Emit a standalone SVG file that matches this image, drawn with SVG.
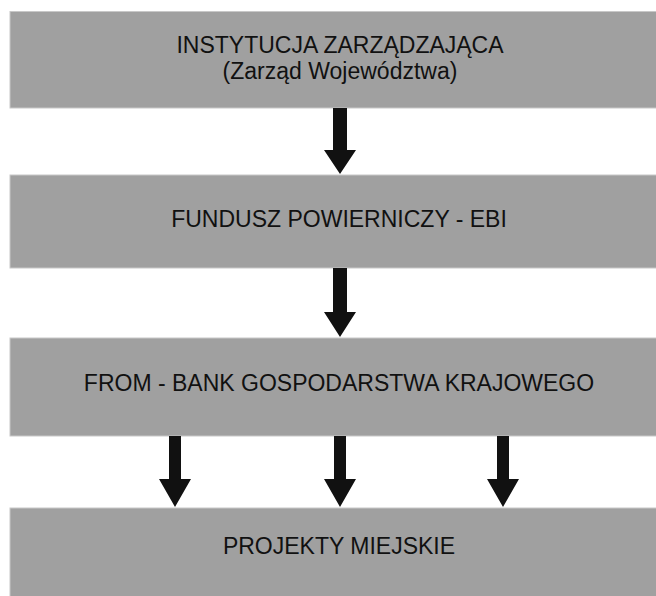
<svg xmlns="http://www.w3.org/2000/svg" width="656" height="596" viewBox="0 0 656 596">
<style>
.box{fill:#a0a0a0;stroke:#c8c8c8;stroke-width:1}
.t{font-family:"Liberation Sans",Arial,sans-serif;font-size:23px;fill:#111;text-anchor:middle}
.arr{fill:#111}
</style>
<rect width="656" height="596" fill="#fff"/>
<g id="n1"><rect class="box" x="10" y="11.5" width="660" height="96.5"/>
<text class="t" x="340" y="53">INSTYTUCJA ZARZĄDZAJĄCA</text>
<text class="t" x="340" y="79">(Zarząd Województwa)</text></g>
<g id="n2"><rect class="box" x="10" y="175" width="660" height="93"/>
<text class="t" x="339" y="227">FUNDUSZ POWIERNICZY - EBI</text></g>
<g id="n3"><rect class="box" x="10" y="338" width="660" height="98"/>
<text class="t" x="339" y="391">FROM - BANK GOSPODARSTWA KRAJOWEGO</text></g>
<g id="n4"><rect class="box" x="10" y="508" width="660" height="100"/>
<text class="t" x="339" y="554">PROJEKTY MIEJSKIE</text></g>
<g id="connectors">
<path class="arr" d="M333 108H347V150H356L340 174L324 150H333Z"/>
<path class="arr" d="M333 268H347V312H356L340 337L324 312H333Z"/>
<path class="arr" d="M169 436H181V479H191L175 507L159 479H169Z"/>
<path class="arr" d="M334 436H346V479H356L340 507L324 479H334Z"/>
<path class="arr" d="M497 436H509V479H519L503 507L487 479H497Z"/>
</g>
</svg>
